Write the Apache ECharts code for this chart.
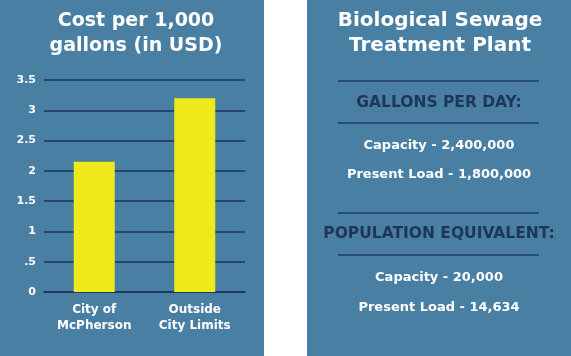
<!DOCTYPE html>
<html><head><meta charset="utf-8">
<script src="https://cdn.jsdelivr.net/npm/echarts@6/dist/echarts.min.js"></script>
<style>html,body{margin:0;padding:0;background:#fff}#c{width:571px;height:356px}</style>
</head><body><div id="c"></div>
<script>
var categories = ['City of\nMcPherson', 'Outside\nCity Limits'];
var costValues = [2.15, 3.2];
var yTicks = [0, 0.5, 1, 1.5, 2, 2.5, 3, 3.5];
var tickLabels = ['0', '.5', '1', '1.5', '2', '2.5', '3', '3.5'];
var chartTitle = 'Cost per 1,000\ngallons (in USD)';
var panelTitle = 'Biological Sewage\nTreatment Plant';
var section1 = 'GALLONS PER DAY:';
var section1Lines = ['Capacity - 2,400,000', 'Present Load - 1,800,000'];
var section2 = 'POPULATION EQUIVALENT:';
var section2Lines = ['Capacity - 20,000', 'Present Load - 14,634'];

var BG = '#487fa3', NAVY = '#1e3658', FONT = '"DejaVu Sans"';
var chart = echarts.init(document.getElementById('c'));

function txt(x, y, s, size, color, weight, lh) {
  return {type: 'text', x: x, y: y, z: 10, style: {text: s, fill: color, font: (weight || 'bold') + ' ' + size + 'px ' + FONT, align: 'center', verticalAlign: 'middle', lineHeight: lh || Math.round(size * 1.2)}};
}
function hline(x1, x2, y) {
  return {type: 'line', z: 10, shape: {x1: x1, y1: y, x2: x2, y2: y}, style: {stroke: '#2b4d73', lineWidth: 2}};
}

var graphics = [
  {type: 'rect', z: -10, shape: {x: 0, y: 0, width: 264, height: 356}, style: {fill: BG}},
  {type: 'rect', z: -10, shape: {x: 307, y: 0, width: 264, height: 356}, style: {fill: BG}},
  txt(136, 34, chartTitle, 19, '#fff', 'bold', 25),
  txt(440, 33, panelTitle, 20, '#fff', 'bold', 25),
  hline(338, 539, 81),
  txt(439, 103, section1, 15.5, NAVY),
  hline(338, 539, 123),
  txt(439, 146, section1Lines[0], 13, '#fff'),
  txt(439, 175, section1Lines[1], 13, '#fff'),
  hline(338, 539, 213),
  txt(439, 234, section2, 15.5, NAVY),
  hline(338, 539, 255),
  txt(439, 278, section2Lines[0], 13, '#fff'),
  txt(439, 308, section2Lines[1], 13, '#fff')
];

chart.setOption({
  animation: false,
  backgroundColor: '#fff',
  graphic: graphics,
  grid: {left: 44, top: 80, width: 201, height: 212},
  xAxis: {
    type: 'category', data: categories,
    axisLine: {show: true, lineStyle: {color: NAVY, width: 1.5}},
    axisTick: {show: false},
    axisLabel: {color: '#fff', fontFamily: 'DejaVu Sans', fontSize: 12, fontWeight: 'bold', lineHeight: 16, margin: 10}
  },
  yAxis: {
    type: 'value', min: 0, max: 3.5, interval: 0.5,
    axisLine: {show: false}, axisTick: {show: false},
    splitLine: {lineStyle: {color: NAVY, width: 1.5}},
    axisLabel: {color: '#fff', fontFamily: 'DejaVu Sans', fontSize: 11, fontWeight: 'bold', margin: 8,
      formatter: function (v) { var i = yTicks.indexOf(v); return i >= 0 ? tickLabels[i] : ''; }}
  },
  series: [{
    type: 'bar', data: costValues, barWidth: 41,
    itemStyle: {color: '#f0e91c'}, z: 5
  }]
});
</script></body></html>
